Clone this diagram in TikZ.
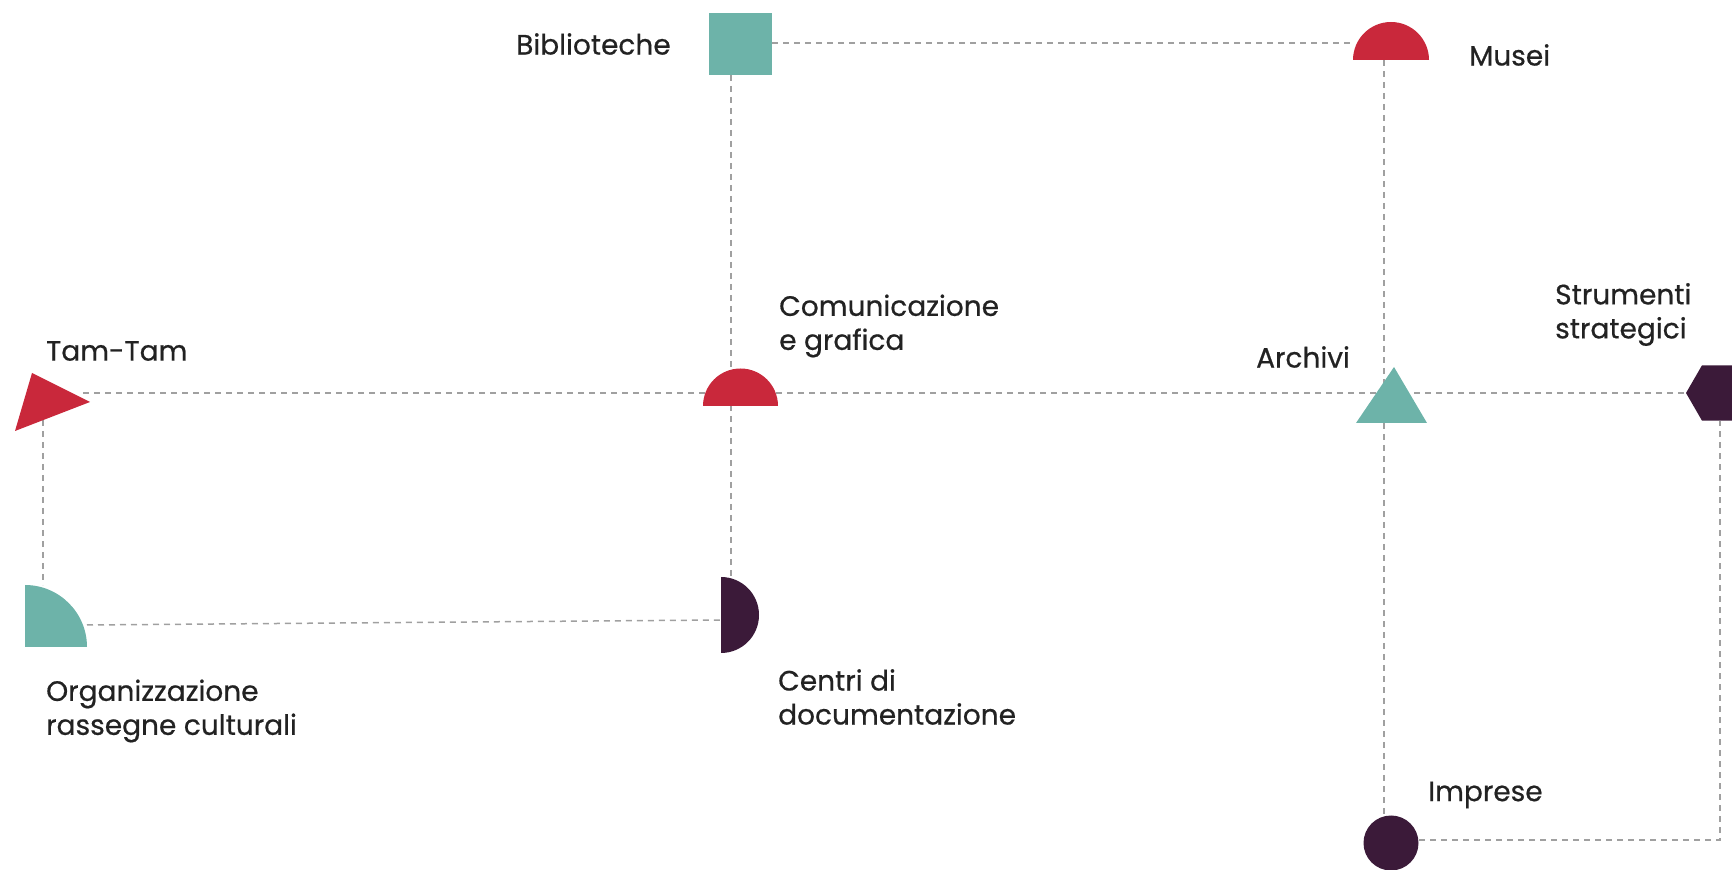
\documentclass[tikz,border=0pt]{standalone}
\usepackage{fontspec}
\setmainfont[FakeBold=0.6]{Poppins}
\definecolor{teal1}{HTML}{6DB3A9}
\definecolor{red1}{HTML}{C9283B}
\definecolor{purp1}{HTML}{3B1A39}
\definecolor{dash1}{HTML}{A0A0A0}
\definecolor{txt1}{HTML}{222222}
\begin{document}
\begin{tikzpicture}[x=1pt,y=1pt,
  conn/.style={draw=dash1,line width=1.5pt,dash pattern=on 6pt off 5pt},
  lbl/.style={anchor=west,inner sep=0pt,text=txt1,align=left,font=\fontsize{28}{34}\selectfont}]
\useasboundingbox (0,0) rectangle (1732,870);
% connector end points
\coordinate (sqB) at (731,795);
\coordinate (dT) at (731,293);
\coordinate (sqR) at (772,827);
\coordinate (muL) at (1353,827);
\coordinate (muB) at (1384,810);
\coordinate (ciT) at (1384,54);
\coordinate (ttR) at (83,477);
\coordinate (hxL) at (1686,477);
\coordinate (ttB) at (43,450);
\coordinate (qcT) at (43,285);
\coordinate (qcR) at (87,245);
\coordinate (dL) at (721,250);
\coordinate (ciR) at (1419,30);
\coordinate (crn) at (1720,30);
\coordinate (hxB) at (1720,449);
% connectors
\draw[conn] (sqB) -- (dT);
\draw[conn] (sqR) -- (muL);
\draw[conn] (muB) -- (ciT);
\draw[conn] (ttR) -- (hxL);
\draw[conn] (ttB) -- (qcT);
\draw[conn] (qcR) -- (dL);
\draw[conn] (ciR) -- (crn) -- (hxB);
% shapes
\fill[red1] (32,497) -- (90,468) -- (15,439) -- cycle;
\fill[teal1] (25,223) -- (25,285) arc[start angle=90,end angle=0,radius=62] -- cycle;
\fill[teal1] (709,795) rectangle (772,857);
\fill[red1] (703,464) arc[start angle=180,end angle=0,radius=37.5] -- cycle;
\fill[purp1] (721,293) arc[start angle=90,end angle=-90,radius=38] -- cycle;
\fill[red1] (1353,810) arc[start angle=180,end angle=0,radius=38] -- cycle;
\fill[teal1] (1394,503) -- (1356,447) -- (1427,447) -- cycle;
\fill[purp1] (1750,477) -- (1734,504.7) -- (1702,504.7) -- (1686,477) -- (1702,449.3) -- (1734,449.3) -- cycle;
\fill[purp1] (1391,27) circle[radius=27.5];
% labels
\node[lbl] (lBib) at (516,826) {Biblioteche};
\node[lbl] (lMus) at (1469,815) {Musei};
\node[lbl] (lCom) at (779,544) {Comunicazione\\e grafica};
\node[lbl] (lTam) at (46,519) {Tam-Tam};
\node[lbl] (lArc) at (1256,513) {Archivi};
\node[lbl] (lStr) at (1555,555.5) {Strumenti\\strategici};
\node[lbl] (lOrg) at (46,159) {Organizzazione\\rassegne culturali};
\node[lbl] (lCen) at (778,173) {Centri di\\documentazione};
\node[lbl] (lImp) at (1428,75) {Imprese};
\end{tikzpicture}
\end{document}
